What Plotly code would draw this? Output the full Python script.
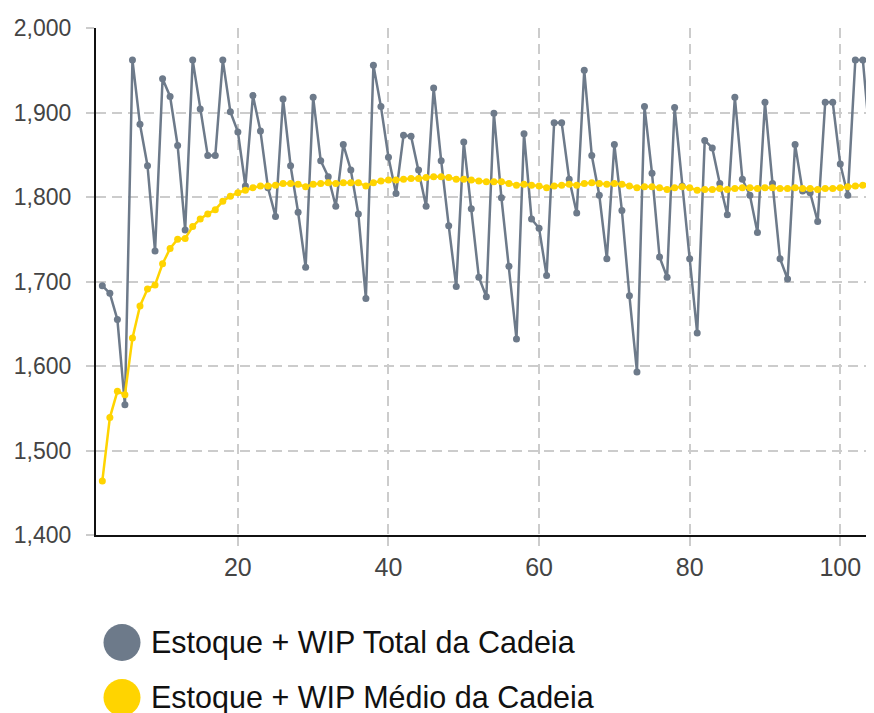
import plotly.graph_objects as go

periods = list(range(2, 106))

estoque_total = [
    1695, 1686, 1655, 1554, 1962, 1886, 1837, 1736, 1940, 1919,
    1861, 1761, 1962, 1904, 1849, 1849, 1962, 1901, 1877, 1813,
    1920, 1878, 1811, 1777, 1916, 1837, 1782, 1717, 1918, 1843,
    1824, 1789, 1862, 1832, 1780, 1680, 1956, 1907, 1847, 1804,
    1873, 1872, 1832, 1789, 1929, 1843, 1766, 1694, 1865, 1786,
    1705, 1682, 1899, 1799, 1718, 1632, 1875, 1774, 1763, 1707,
    1888, 1888, 1821, 1781, 1950, 1849, 1802, 1727, 1862, 1784,
    1683, 1593, 1907, 1828, 1729, 1705, 1906, 1813, 1727, 1639,
    1867, 1858, 1816, 1779, 1918, 1821, 1802, 1758, 1912, 1816,
    1727, 1703, 1862, 1807, 1805, 1771, 1912, 1912, 1839, 1802,
    1962, 1962, 1862, 1763,
]

estoque_medio = [
    1464, 1539, 1570, 1566, 1633, 1671, 1691, 1696, 1721, 1739,
    1750, 1751, 1765, 1774, 1780, 1785, 1795, 1801, 1805, 1808,
    1811, 1813, 1813, 1814, 1816, 1816, 1815, 1812, 1815, 1816,
    1817, 1816, 1817, 1817, 1817, 1813, 1817, 1819, 1820, 1820,
    1821, 1822, 1822, 1823, 1824, 1824, 1823, 1821, 1821, 1820,
    1819, 1818, 1818, 1818, 1816, 1814, 1815, 1814, 1813, 1811,
    1813, 1814, 1815, 1814, 1816, 1817, 1816, 1815, 1816, 1815,
    1813, 1811, 1812, 1812, 1811, 1809, 1811, 1812, 1811, 1808,
    1809, 1809, 1810, 1809, 1810, 1811, 1811, 1810, 1811, 1811,
    1810, 1810, 1811, 1810, 1810, 1809, 1810, 1810, 1811, 1812,
    1813, 1814, 1815, 1815,
]

series_names = ["Estoque + WIP Total da Cadeia", "Estoque + WIP Médio da Cadeia"]
series_colors = ["#6d7a8a", "#ffd400"]

x_ticks = [20, 40, 60, 80, 100]
y_ticks = [1400, 1500, 1600, 1700, 1800, 1900, 2000]

# page body adds an 8px offset; compensate so the plot lands where the reference has it
OFF = 8
W, H = 874 - OFF, 713 - OFF
L, R, T = 96 - OFF, 0, 28 - OFF
plot_h = 507
B = H - T - plot_h
plot_w = W - L - R

fig = go.Figure()
fig.add_trace(go.Scatter(
    x=periods, y=estoque_total, mode="lines+markers", name=series_names[0],
    line=dict(color=series_colors[0], width=2.5),
    marker=dict(color=series_colors[0], size=7),
    showlegend=False,
))
fig.add_trace(go.Scatter(
    x=periods, y=estoque_medio, mode="lines+markers", name=series_names[1],
    line=dict(color=series_colors[1], width=2.5),
    marker=dict(color=series_colors[1], size=7),
    showlegend=False,
))

tick_font = dict(family="Liberation Sans, Arial, sans-serif", color="#444444")

fig.update_xaxes(
    range=[1.16, 104.48],
    tickvals=x_ticks, ticktext=[str(v) for v in x_ticks],
    showgrid=True, gridcolor="#cccccc", gridwidth=1.5, griddash="10px,6px",
    showline=True, linecolor="#111111", linewidth=2,
    ticks="outside", ticklen=9, tickcolor="#cccccc", tickwidth=1.5,
    tickfont=dict(size=25, **tick_font),
    zeroline=False, automargin=False,
)
fig.update_yaxes(
    range=[1400, 2000],
    tickvals=y_ticks, ticktext=[f"{v:,}" for v in y_ticks],
    showgrid=True, gridcolor="#cccccc", gridwidth=1.5, griddash="10px,6px",
    showline=True, linecolor="#111111", linewidth=2,
    ticks="outside", ticklen=8, tickcolor="#cccccc", tickwidth=1.5,
    ticklabelstandoff=10,
    tickfont=dict(size=23, **tick_font),
    zeroline=False, automargin=False,
)

# Manual legend (large circles + text), positions given in reference-page pixels
def py(pix):
    return (T + plot_h - (pix - OFF)) / plot_h

def px(pix):
    return ((pix - OFF) - L) / plot_w

legend_rows = [642.5, 697.5]
shapes = []
annotations = []
for name, color, yc in zip(series_names, series_colors, legend_rows):
    shapes.append(dict(
        type="circle", xref="paper", yref="paper",
        xsizemode="pixel", ysizemode="pixel",
        xanchor=px(122), yanchor=py(yc),
        x0=-18.5, x1=18.5, y0=-18.5, y1=18.5,
        fillcolor=color, line=dict(width=0),
    ))
    annotations.append(dict(
        text=name, xref="paper", yref="paper",
        x=px(149), y=py(yc), xanchor="left", yanchor="middle",
        showarrow=False,
        font=dict(size=30.5, family="Liberation Sans, Arial, sans-serif", color="#111111"),
    ))

fig.update_layout(
    width=W, height=H,
    margin=dict(l=L, r=R, t=T, b=B, pad=0, autoexpand=False),
    paper_bgcolor="white", plot_bgcolor="white",
    showlegend=False,
    shapes=shapes, annotations=annotations,
)

fig.write_html("out.html")
